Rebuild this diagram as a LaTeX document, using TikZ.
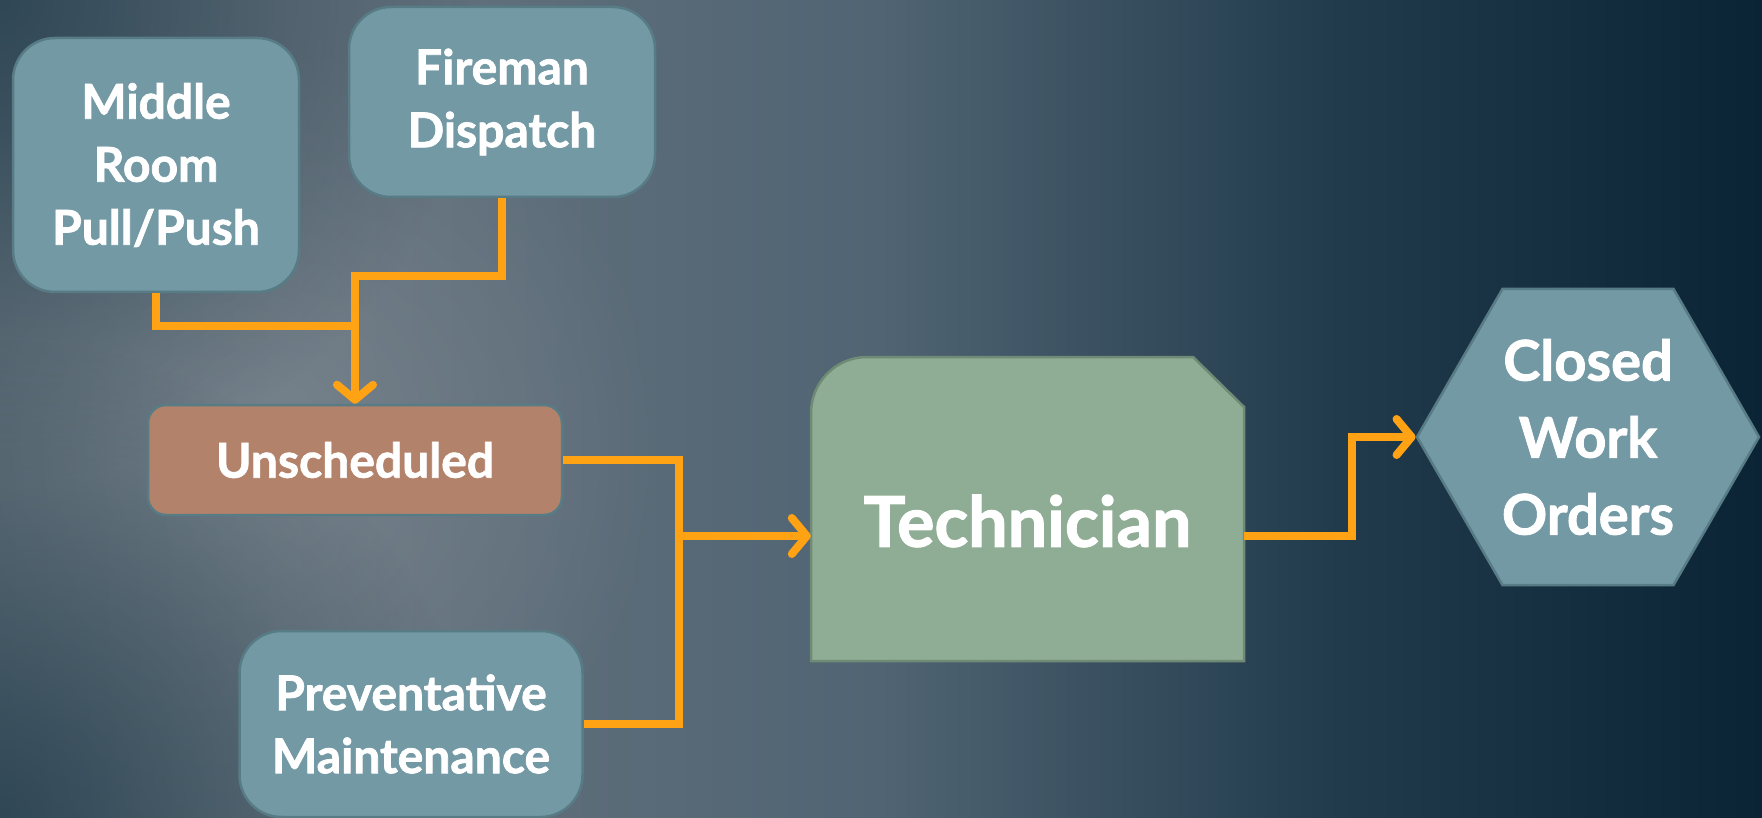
\documentclass[tikz,border=0pt]{standalone}
\usepackage{fontspec}
\setmainfont{Lato}[BoldFeatures={FakeBold=1.5}]
\usetikzlibrary{arrows.meta,shapes.geometric,fadings}

\definecolor{bgA}{HTML}{5C6B76}
\definecolor{bgB}{HTML}{67747F}
\definecolor{bgC}{HTML}{506473}
\definecolor{bgD}{HTML}{213B4C}
\definecolor{bgE}{HTML}{0A2436}
\definecolor{bgcorner}{HTML}{183444}
\definecolor{bglight}{HTML}{7F8A92}
\definecolor{boxblue}{HTML}{7399A4}
\definecolor{boxedge}{HTML}{587C86}
\definecolor{unschbrown}{HTML}{B3826A}
\definecolor{techgreen}{HTML}{8FAC94}
\definecolor{techedge}{HTML}{6F8B76}
\definecolor{flowline}{HTML}{FFA315}

% left to right sweep, plus soft spots
\pgfdeclarehorizontalshading{bgsweep}{100bp}{color(0bp)=(bgA); color(25bp)=(bgA); color(33bp)=(bgB); color(50bp)=(bgC); color(63bp)=(bgD); color(75bp)=(bgE); color(100bp)=(bgE)}
\pgfdeclareradialshading{softspotshade}{\pgfpointorigin}{color(0bp)=(pgftransparent!35); color(25bp)=(pgftransparent!100); color(50bp)=(pgftransparent!100)}
\pgfdeclarefading{softspot}{\pgfuseshading{softspotshade}}

\newcommand\boxfont{\bfseries\fontsize{48}{63}\selectfont}
\newcommand\techfont{\bfseries\fontsize{70}{80}\selectfont}
\newcommand\closedfont{\bfseries\fontsize{56}{77}\selectfont}

\begin{document}
\begin{tikzpicture}[x=1pt,y=-1pt,
  every node/.style={text=white,align=center,font=\boxfont},
  bluebox/.style={draw=boxedge,line width=2.5pt,fill=boxblue,rounded corners=42pt,inner sep=0pt},
  flow/.style={draw=flowline,line width=8pt},
  flowarrow/.style={flow,-{Straight Barb[length=15pt,width=36pt,round]}}]

% background
\useasboundingbox (0,0) rectangle (1762,818);
\begin{scope}
\clip (0,0) rectangle (1762,818);
\shade[shading=bgsweep] (0,0) rectangle (1762,818);
\fill[bglight,path fading=softspot] (250,450) circle (420);
\fill[bgcorner,path fading=softspot] (0,0) circle (480);
\fill[bgcorner,path fading=softspot] (0,818) circle (480);
\end{scope}

\node[bluebox,minimum width=286pt,minimum height=254pt] (mid) at (156,165) {Middle\\Room\\Pull/Push};
\node[bluebox,minimum width=306pt,minimum height=190pt] (fire) at (502,102) {Fireman\\Dispatch};
\node[bluebox,fill=unschbrown,rounded corners=18pt,minimum width=414pt,minimum height=110pt] (unsch) at (355,460) {Unscheduled};
\node[bluebox,minimum width=343pt,minimum height=186pt] (prev) at (411,724) {Preventative\\Maintenance};

% technician card: round top left, cut top right
\filldraw[fill=techgreen,draw=techedge,line width=2.5pt] (811,661) -- (811,413) arc (180:270:56) -- (1193,357) -- (1244,407) -- (1244,661) -- cycle;
\node[minimum width=433pt,minimum height=280pt,inner sep=0pt,font=\techfont] (tech) at (1027.5,521) {Technician};

\node[regular polygon,regular polygon sides=6,minimum size=342pt,inner sep=0pt,draw=boxedge,line width=2.5pt,fill=boxblue,font=\closedfont] (closed) at (1588,437) {Closed\\Work\\Orders};

% connectors
\coordinate (mjoin) at (355,326);
\coordinate (bus) at (679,536);
\draw[flow] (mid.south) |- (mjoin);
\draw[flowarrow] (fire.south) -- ++(0,78) -| (unsch.north);
\draw[flow] (unsch.east) -| (bus);
\draw[flow] (prev.east) -| (bus);
\draw[flowarrow] (bus) -- (bus -| tech.west);
\draw[flowarrow] (tech.east |- bus) -- ++(108,0) |- (closed.west);

\end{tikzpicture}
\end{document}
